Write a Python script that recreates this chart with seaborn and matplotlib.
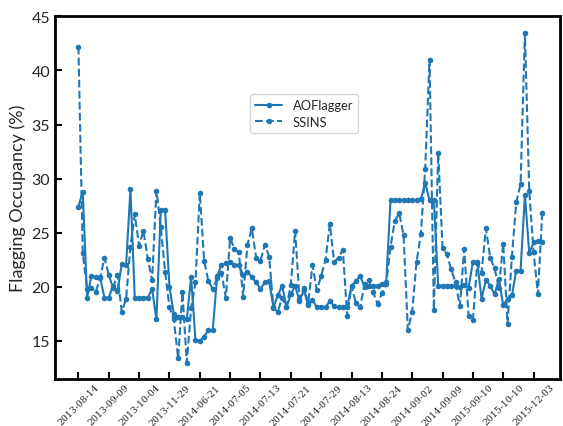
import numpy as np
import pandas as pd
import matplotlib
matplotlib.use("Agg")
import matplotlib.pyplot as plt
import seaborn as sns

# Per-observation flagging occupancy (%) for the two RFI flaggers
aoflagger = [
    27.4, 28.8, 19.0, 21.0, 20.9, 20.9, 19.0, 19.0, 20.1, 19.6,
    22.1, 22.0, 29.0, 19.0, 19.0, 19.0, 19.0, 19.8, 17.0, 27.1,
    27.1, 20.0, 17.5, 17.2, 17.2, 17.0, 20.9, 15.1, 15.0, 15.4,
    16.0, 16.0, 21.0, 22.0, 22.2, 22.3, 22.0, 22.0, 21.1, 21.4,
    20.9, 20.4, 19.8, 20.4, 20.5, 18.1, 19.2, 20.1, 18.1, 19.3,
    20.1, 18.7, 19.7, 18.3, 18.8, 18.1, 18.1, 18.1, 18.7, 18.2,
    18.1, 18.1, 18.1, 20.1, 20.5, 21.0, 20.0, 20.1, 20.1, 20.1,
    20.3, 20.4, 28.0, 28.0, 28.0, 28.0, 28.0, 28.0, 28.0, 28.1,
    29.6, 28.0, 28.0, 20.1, 20.1, 20.1, 20.1, 20.1, 20.0, 20.2,
    19.9, 22.3, 22.3, 18.9, 20.6, 20.1, 19.3, 20.7, 18.3, 18.9,
    19.2, 21.5, 21.5, 28.5, 23.1, 24.1, 24.2, 24.1,
]

ssins = [
    42.2, 23.1, 19.8, 19.9, 19.5, 20.8, 22.7, 21.1, 19.9, 21.1,
    17.7, 18.9, 23.7, 26.7, 23.8, 25.2, 22.6, 20.6, 28.9, 25.5,
    21.4, 18.1, 17.0, 13.4, 19.5, 13.0, 18.0, 20.4, 28.7, 22.4,
    20.5, 19.8, 20.8, 21.3, 19.0, 24.5, 23.5, 23.2, 19.1, 23.9,
    25.4, 22.7, 22.4, 23.9, 22.8, 18.0, 17.7, 19.0, 18.1, 20.2,
    25.2, 18.9, 19.9, 18.5, 22.0, 19.7, 21.0, 22.5, 25.8, 22.3,
    22.7, 23.4, 17.3, 20.1, 18.5, 18.1, 20.3, 20.6, 19.5, 18.4,
    19.4, 20.3, 23.7, 26.1, 26.8, 24.8, 16.0, 17.7, 22.3, 24.9,
    30.9, 41.0, 17.9, 32.4, 23.6, 23.0, 21.6, 20.4, 18.2, 23.5,
    17.3, 16.9, 22.2, 21.3, 25.4, 22.7, 21.7, 19.9, 24.0, 16.6,
    22.8, 27.8, 29.5, 43.5, 28.9, 23.2, 19.3, 26.8,
]

# Observation dates shown along the x axis (one label every 7 observations)
date_labels = [
    "2013-08-14", "2013-09-09", "2013-10-04", "2013-11-29",
    "2014-06-21", "2014-07-05", "2014-07-13", "2014-07-21",
    "2014-07-29", "2014-08-13", "2014-08-24", "2014-09-02",
    "2014-09-09", "2015-09-10", "2015-10-10", "2015-12-03",
]
label_step = 7

obs = np.arange(len(aoflagger))
df = pd.DataFrame({"obs": obs, "AOFlagger": aoflagger, "SSINS": ssins})

sns.set_style("white")
plt.rcParams["font.family"] = ["Lato", "DejaVu Sans"]

blue = "#1f77b4"

fig = plt.figure(figsize=(5.63, 4.27), dpi=100)
ax = fig.add_axes([0.0977, 0.110, 0.897, 0.850])

sns.lineplot(data=df, x="obs", y="AOFlagger", ax=ax, color=blue,
             linestyle="-", linewidth=1.5, marker="o", markersize=4,
             markeredgewidth=0, label="AOFlagger")
sns.lineplot(data=df, x="obs", y="SSINS", ax=ax, color=blue,
             linestyle="--", linewidth=1.5, marker="o", markersize=4,
             markeredgewidth=0, label="SSINS")

ax.set_xlim(-5.4, 111.1)
ax.set_xticks(obs[::label_step])
ax.set_xticklabels(date_labels, rotation=45, fontsize=6.7,
                   family=["DejaVu Serif"])
ax.set_xlabel("")
ax.set_ylabel("Flagging Occupancy (%)", fontsize=13)
ax.tick_params(axis="y", labelsize=11.5)
ax.tick_params(axis="x", pad=2.5)
ax.tick_params(axis="both", direction="in", length=5, width=1.5,
               color="black", bottom=True, left=True, top=False, right=False)

for side in ax.spines.values():
    side.set_visible(True)
    side.set_linewidth(2)
    side.set_color("black")

leg = ax.legend(loc="upper left", bbox_to_anchor=(0.386, 0.785),
                borderaxespad=0, fontsize=9.3, frameon=True,
                handlelength=2.1, borderpad=0.4, labelspacing=0.35)
leg.get_frame().set_edgecolor("#cccccc")

fig.savefig("out.png", dpi=100)
